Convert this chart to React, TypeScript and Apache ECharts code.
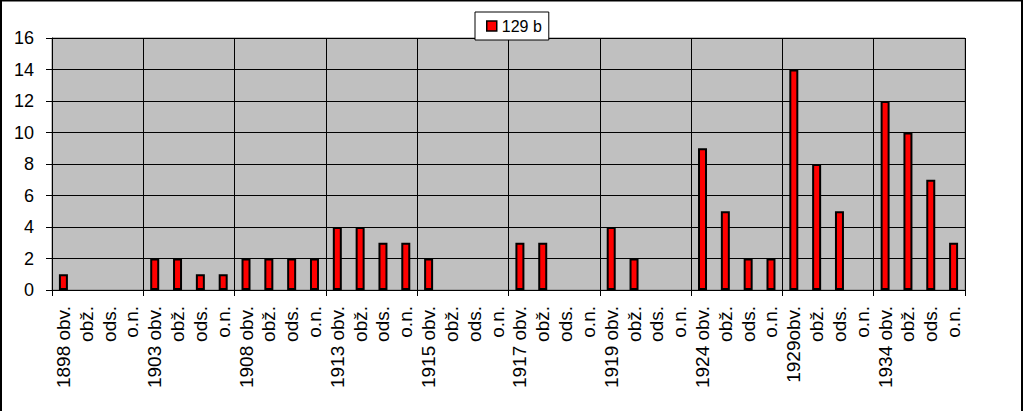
import React, { useEffect, useRef } from "react";
import * as echarts from "echarts";

const years = ["1898", "1903", "1908", "1913", "1915", "1917", "1919", "1924", "1929", "1934"];
const kinds = ["obv.", "obž.", "ods.", "o.n."];
const categories = [
  "1898 obv.", "obž.", "ods.", "o.n.",
  "1903 obv.", "obž.", "ods.", "o.n.",
  "1908 obv.", "obž.", "ods.", "o.n.",
  "1913 obv.", "obž.", "ods.", "o.n.",
  "1915 obv.", "obž.", "ods.", "o.n.",
  "1917 obv.", "obž.", "ods.", "o.n.",
  "1919 obv.", "obž.", "ods.", "o.n.",
  "1924 obv.", "obž.", "ods.", "o.n.",
  "1929obv.", "obž.", "ods.", "o.n.",
  "1934 obv.", "obž.", "ods.", "o.n.",
];
const values129b = [
  1, 0, 0, 0,
  2, 2, 1, 1,
  2, 2, 2, 2,
  4, 4, 3, 3,
  2, 0, 0, 0,
  3, 3, 0, 0,
  4, 2, 0, 0,
  9, 5, 2, 2,
  14, 8, 5, 0,
  12, 10, 7, 3,
];
const yTicks = [0, 2, 4, 6, 8, 10, 12, 14, 16];
const seriesName = "129 b";

const FONT = "'Liberation Sans', Arial, sans-serif";

export default function App() {
  const ref = useRef<HTMLDivElement>(null);
  useEffect(() => {
    document.body.style.margin = "0";
    if (!ref.current) return;
    const chart = echarts.init(ref.current, undefined, { renderer: "svg" });
    const groupSize = kinds.length;
    const every = (i: number) => i % groupSize === 0;
    chart.setOption({
      animation: false,
      backgroundColor: "#ffffff",
      textStyle: { fontFamily: FONT, color: "#000" },
      graphic: [
        {
          type: "rect",
          shape: { x: 1, y: 0.5, width: 1021, height: 430 },
          style: { fill: "none", stroke: "#000", lineWidth: 2 },
          silent: true,
          z: 100,
        },
      ],
      legend: {
        left: 475,
        top: 12,
        orient: "horizontal",
        backgroundColor: "#ffffff",
        borderColor: "#000",
        borderWidth: 1,
        borderRadius: 0,
        padding: [6, 7, 6, 11],
        itemWidth: 10,
        itemHeight: 10,
        icon: "rect",
        textStyle: { fontSize: 16, fontFamily: FONT, color: "#000" },
        itemStyle: { borderColor: "#000", borderWidth: 1.5 },
        data: [seriesName],
        z: 10,
      },
      grid: {
        left: 52,
        right: 59,
        top: 38,
        bottom: 121,
        show: true,
        backgroundColor: "#C0C0C0",
        borderColor: "#808080",
        borderWidth: 1,
        containLabel: false,
      },
      xAxis: {
        type: "category",
        data: categories,
        boundaryGap: true,
        axisLine: { show: true, lineStyle: { color: "#000", width: 1 } },
        axisTick: { show: true, interval: (i: number) => every(i), length: 6, lineStyle: { color: "#000" } },
        splitLine: { show: true, interval: (i: number) => every(i), lineStyle: { color: "#000", width: 1 } },
        axisLabel: {
          interval: 0,
          rotate: 90,
          margin: 16,
          fontSize: 19,
          fontFamily: FONT,
          color: "#000",
        },
      },
      yAxis: {
        type: "value",
        min: yTicks[0],
        max: yTicks[yTicks.length - 1],
        interval: yTicks[1] - yTicks[0],
        axisLine: { show: true, lineStyle: { color: "#000", width: 1 } },
        axisTick: { show: true, length: 6, lineStyle: { color: "#000" } },
        splitLine: { show: true, lineStyle: { color: "#000", width: 1 } },
        axisLabel: { fontSize: 18, margin: 18, fontFamily: FONT, color: "#000" },
      },
      series: [
        {
          name: seriesName,
          type: "bar",
          data: values129b.map((v) => (v === 0 ? "-" : v)),
          barWidth: 9,
          itemStyle: { color: "#FF0000", borderColor: "#000", borderWidth: 2 },
        },
      ],
    });
    return () => chart.dispose();
  }, []);
  return <div ref={ref} style={{ width: 1024, height: 411 }} />;
}
